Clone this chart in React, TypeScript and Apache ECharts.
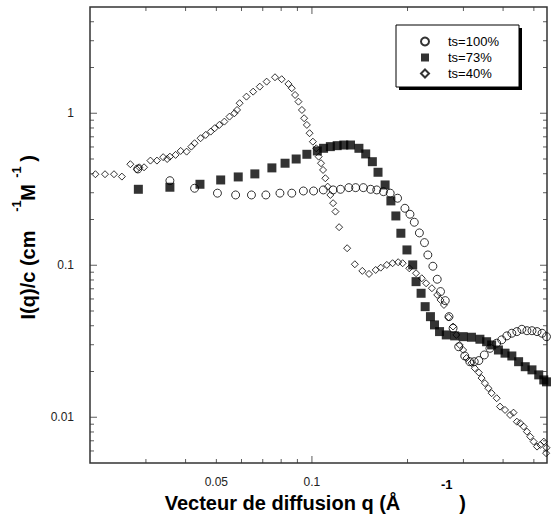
import React, { useEffect, useRef } from "react";
import * as echarts from "echarts";

// ---- data ----
const q100 = [0.0283,0.0357,0.0427,0.0504,0.0575,0.0645,0.0716,0.0793,0.0864,0.0940,0.1012,0.1086,0.1166,0.1230,0.1307,0.1373,0.1452,0.1531,0.1600,0.1680,0.1764,0.1861,0.1963,0.2036,0.2101,0.2180,0.2262,0.2318,0.2404,0.2481,0.2541,0.2630,0.2702,0.2783,0.2899,0.3029,0.3142,0.3245,0.3355,0.3491,0.3636,0.3818,0.3961,0.4110,0.4262,0.4420,0.4584,0.4755,0.4932,0.5116,0.5306,0.5480];
const i100 = [0.43,0.360,0.321,0.298,0.290,0.290,0.290,0.298,0.298,0.308,0.308,0.313,0.313,0.316,0.324,0.324,0.324,0.316,0.313,0.305,0.298,0.276,0.237,0.2165,0.1918,0.1632,0.1409,0.1169,0.0985,0.0809,0.0671,0.0585,0.0459,0.0385,0.0291,0.0253,0.0232,0.0232,0.0236,0.0257,0.0284,0.0307,0.0323,0.0343,0.0357,0.0366,0.0379,0.0371,0.0371,0.0366,0.0357,0.0339];

const q73 = [0.0284,0.0357,0.0444,0.0516,0.0586,0.0661,0.0748,0.0823,0.0892,0.0964,0.1040,0.1088,0.1143,0.1201,0.1260,0.1323,0.1406,0.1477,0.1550,0.1615,0.1700,0.1773,0.1838,0.1906,0.1992,0.2077,0.2128,0.2207,0.2273,0.2362,0.2432,0.2523,0.2649,0.2816,0.2994,0.3180,0.3381,0.3549,0.3681,0.3867,0.4057,0.4262,0.4476,0.4697,0.4932,0.5180,0.5373,0.5480];
const i73 = [0.316,0.326,0.341,0.364,0.381,0.399,0.437,0.469,0.500,0.537,0.565,0.588,0.603,0.612,0.618,0.618,0.588,0.540,0.480,0.409,0.3375,0.265,0.211,0.1624,0.1261,0.1005,0.0780,0.0654,0.0534,0.0459,0.0405,0.0366,0.0348,0.0343,0.0339,0.0336,0.0326,0.0314,0.0299,0.0277,0.0264,0.0253,0.0232,0.0215,0.0205,0.0190,0.0176,0.0171];

const q40 = [0.0208,0.0223,0.0238,0.0252,0.0268,0.0281,0.0286,0.0296,0.0310,0.0325,0.0340,0.0350,0.0357,0.0372,0.0386,0.0403,0.0417,0.0427,0.0446,0.0463,0.0480,0.0494,0.0511,0.0530,0.0550,0.0570,0.0581,0.0592,0.0622,0.0653,0.0685,0.0720,0.0765,0.0803,0.0843,0.0864,0.0885,0.0907,0.0930,0.0945,0.0964,0.0983,0.1007,0.1032,0.1050,0.1068,0.1084,0.1102,0.1121,0.1143,0.1166,0.1186,0.1218,0.1291,0.1365,0.1441,0.1513,0.1588,0.1647,0.1721,0.1795,0.1869,0.1931,0.2026,0.2128,0.2218,0.2289,0.2387,0.2481,0.2541,0.2605,0.2695,0.2783,0.2850,0.2920,0.2994,0.3067,0.3180,0.3258,0.3355,0.3422,0.3506,0.3594,0.3681,0.3819,0.3912,0.4057,0.4208,0.4314,0.4420,0.4528,0.4642,0.4755,0.4871,0.4993,0.5116,0.5241,0.5373,0.5464,0.5480];
const i40 = [0.397,0.397,0.397,0.383,0.462,0.428,0.441,0.441,0.488,0.488,0.514,0.500,0.518,0.532,0.565,0.559,0.603,0.635,0.685,0.720,0.757,0.797,0.838,0.881,0.950,1.0,1.051,1.164,1.286,1.387,1.496,1.614,1.725,1.674,1.559,1.461,1.319,1.192,1.051,0.927,0.838,0.739,0.650,0.588,0.518,0.469,0.4236,0.3736,0.329,0.290,0.256,0.2254,0.178,0.1294,0.1015,0.0918,0.0877,0.0931,0.0964,0.1005,0.1031,0.1047,0.1031,0.0955,0.0886,0.0821,0.0761,0.0706,0.0638,0.0591,0.0548,0.0455,0.0395,0.0348,0.0299,0.0277,0.0245,0.0227,0.0210,0.0197,0.0181,0.01675,0.01552,0.0144,0.01334,0.01175,0.01117,0.01035,0.01072,0.00935,0.00914,0.00868,0.00804,0.00745,0.00691,0.00641,0.00658,0.00691,0.0058,0.0063];

const seriesNames = ["ts=100%", "ts=73%", "ts=40%"];

// ---- axes ----
const xMin = 0.02, xMax = 0.55;
const yMin = 0.005, yMax = 5;
const xMajorTicks = [0.1];
const xMinorTicks = [0.03, 0.04, 0.05, 0.06, 0.07, 0.08, 0.09, 0.2, 0.3, 0.4, 0.5];
const xTickLabels = [0.05, 0.1];
const yMajorTicks = [0.01, 0.1, 1];
const yMinorTicks = [0.006, 0.007, 0.008, 0.009, 0.02, 0.03, 0.04, 0.05, 0.06, 0.07, 0.08, 0.09, 0.2, 0.3, 0.4, 0.5, 0.6, 0.7, 0.8, 0.9, 2, 3, 4];
const yTickLabels = [0.01, 0.1, 1];

const FONT = '"Liberation Sans", Arial, Helvetica, sans-serif';
const AXIS_COLOR = "#333";
const MAJOR_LEN = 7;
const MINOR_LEN = 4;

const zip = (xs: number[], ys: number[]) => xs.map((x, i) => [x, ys[i]]);
const fmt = (v: number) => String(parseFloat(Number(v).toPrecision(4)));

const titleStyle = (text: string, size: number) => ({
  text, fontSize: size, fontWeight: "bold", fontFamily: FONT, fill: "#000", align: "center", verticalAlign: "middle",
});

// tick marks: thin rect symbols placed at the tick values on each frame edge through the axis scales
function tickMarks(side: "bottom" | "top" | "left" | "right", values: number[], len: number) {
  const horizontalEdge = side === "bottom" || side === "top";
  const data = values.map((v) =>
    side === "bottom" ? [v, yMin] : side === "top" ? [v, yMax] : side === "left" ? [xMin, v] : [xMax, v]
  );
  const offset =
    side === "bottom" ? [0, -len / 2] : side === "top" ? [0, len / 2] : side === "left" ? [len / 2, 0] : [-len / 2, 0];
  return {
    type: "scatter",
    silent: true,
    clip: false,
    z: 4,
    symbol: "rect",
    symbolSize: horizontalEdge ? [1, len] : [len, 1],
    symbolOffset: offset,
    itemStyle: { color: AXIS_COLOR, borderWidth: 0 },
    emphasis: { disabled: true },
    data,
  };
}

export default function App() {
  const ref = useRef<HTMLDivElement>(null);
  useEffect(() => {
    if (!ref.current) return;
    const chart = echarts.init(ref.current, null, { renderer: "svg" });
    const option: any = {
      animation: false,
      backgroundColor: "#fff",
      textStyle: { fontFamily: FONT },
      grid: { left: 90, top: 7, right: 6, bottom: 65, containLabel: false, show: true, borderColor: AXIS_COLOR, borderWidth: 1.5, backgroundColor: "transparent" },
      xAxis: {
        type: "log", logBase: 10, min: xMin, max: xMax,
        splitLine: { show: false }, minorTick: { show: false },
        axisLine: { show: false }, axisTick: { show: false },
        axisLabel: { show: true, customValues: xTickLabels, formatter: (v: number) => fmt(v), color: "#222", fontSize: 12, fontFamily: FONT, margin: 13 },
      },
      yAxis: {
        type: "log", logBase: 10, min: yMin, max: yMax,
        splitLine: { show: false }, minorTick: { show: false },
        axisLine: { show: false }, axisTick: { show: false },
        axisLabel: { show: true, customValues: yTickLabels, formatter: (v: number) => fmt(v), color: "#222", fontSize: 12, fontFamily: FONT, margin: 16 },
      },
      legend: {
        show: true,
        orient: "vertical",
        left: 420,
        top: 34,
        padding: 0,
        itemWidth: 8,
        itemHeight: 8,
        itemGap: 1,
        data: seriesNames,
        textStyle: { fontSize: 13, lineHeight: 15, color: "#000", fontFamily: FONT, padding: [0, 0, 0, 14] },
      },
      graphic: [
        { type: "rect", id: "lgShadow", shape: { x: 399, y: 28, width: 123, height: 62 }, style: { fill: "#000" } },
        { type: "rect", id: "lgBox", shape: { x: 396, y: 25, width: 123, height: 62 }, style: { fill: "#fff", stroke: "#000", lineWidth: 1 } },
        { type: "text", id: "xt1", x: 282.5, y: 503, style: titleStyle("Vecteur de diffusion q (Å", 20) },
        { type: "text", id: "xt2", x: 446.7, y: 484.5, style: titleStyle("-1", 13) },
        { type: "text", id: "xt3", x: 462.5, y: 503, style: titleStyle(")", 20) },
        { type: "text", id: "yt1", x: 28, y: 275, rotation: Math.PI / 2, style: titleStyle("I(q)/c (cm", 20) },
        { type: "text", id: "yt2", x: 16.5, y: 206, rotation: Math.PI / 2, style: titleStyle("-1", 13) },
        { type: "text", id: "yt3", x: 28, y: 192.5, rotation: Math.PI / 2, style: titleStyle("M", 20) },
        { type: "text", id: "yt4", x: 16.5, y: 172, rotation: Math.PI / 2, style: titleStyle("-1", 13) },
        { type: "text", id: "yt5", x: 28, y: 158.5, rotation: Math.PI / 2, style: titleStyle(")", 20) },
      ],
      series: [
        {
          name: seriesNames[0], type: "scatter",
          symbol: "circle", symbolSize: 8,
          itemStyle: { color: "rgba(255,255,255,0)", borderColor: "#000", borderWidth: 1 },
          data: zip(q100, i100),
        },
        {
          name: seriesNames[1], type: "scatter",
          symbol: "rect", symbolSize: 9,
          itemStyle: { color: "#000", borderWidth: 0 },
          data: zip(q73, i73),
        },
        {
          name: seriesNames[2], type: "scatter",
          symbol: "diamond", symbolSize: 7,
          itemStyle: { color: "rgba(255,255,255,0)", borderColor: "#000", borderWidth: 1 },
          data: zip(q40, i40),
        },
        tickMarks("bottom", xMajorTicks, MAJOR_LEN),
        tickMarks("bottom", xMinorTicks, MINOR_LEN),
        tickMarks("top", xMajorTicks, MAJOR_LEN),
        tickMarks("top", xMinorTicks, MINOR_LEN),
        tickMarks("left", yMajorTicks, MAJOR_LEN),
        tickMarks("left", yMinorTicks, MINOR_LEN),
        tickMarks("right", yMajorTicks, MAJOR_LEN),
        tickMarks("right", yMinorTicks, MINOR_LEN),
      ],
    };
    chart.setOption(option);
    return () => chart.dispose();
  }, []);
  return <div ref={ref} style={{ position: "fixed", left: 0, top: 0, width: 553, height: 528 }} />;
}
